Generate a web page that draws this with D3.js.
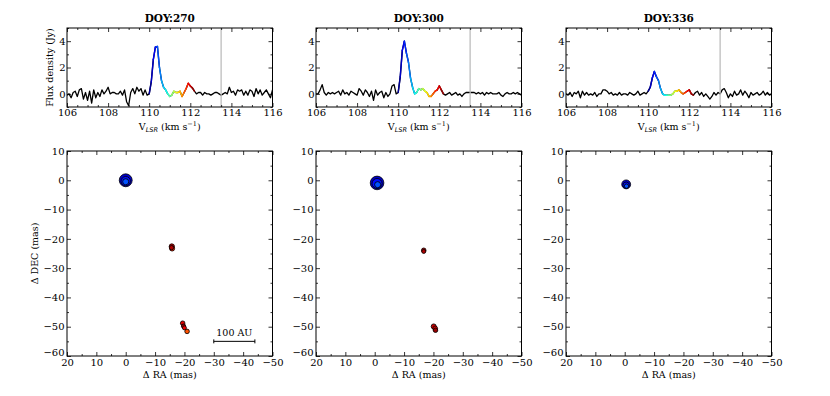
<!DOCTYPE html>
<html><head><meta charset="utf-8">
<script src="https://cdn.jsdelivr.net/npm/d3@7"></script>
<style>
html,body{margin:0;padding:0;background:#fff;}
text{font-family:"DejaVu Serif",serif;fill:#000;}
</style></head>
<body>
<svg id="chart" width="830" height="396"></svg>
<script>
// ---------------- DATA ----------------
const epochs = ["DOY:270", "DOY:300", "DOY:336"];
const velStart = 106.0, velStep = 0.1; // channel grid
const flux270 = [-0.1,0.0,-0.3,0.1,0.2,-0.2,0.3,0.4,-0.4,0.1,-0.5,0.2,-0.7,0.3,-0.3,0.1,-0.2,0.3,0.0,0.2,
 0.5,0.0,0.1,0.1,0.0,0.0,0.2,-0.1,0.3,-0.6,-0.9,0.1,0.4,0.0,0.5,0.2,0.4,-0.1,0.3,-0.1,
 0.0,0.9,2.6,3.55,3.6,2.0,1.0,0.5,0.3,0.0,-0.2,-0.1,0.2,0.1,0.1,0.2,-0.2,0.1,0.4,0.8,
 0.6,0.45,0.2,0.0,0.1,0.1,-0.1,0.1,0.0,0.0,-0.1,0.0,0.1,0.1,0.0,-0.1,0.0,0.1,0.0,0.5,
 0.1,0.2,-0.1,0.3,0.2,0.3,-0.1,0.2,-0.1,0.3,0.2,-0.2,0.4,0.0,0.3,-0.1,0.1,0.3,0.0,-0.3,0.3];
const flux300 = [0.0,0.0,0.3,0.7,0.1,-0.1,0.1,0.0,0.1,0.0,0.1,0.2,-0.1,0.3,0.0,0.1,-0.1,0.2,0.1,0.0,
 -0.1,0.4,0.2,-0.1,0.3,0.1,-0.2,0.2,-0.5,0.3,-0.1,0.1,0.2,-0.3,0.1,-0.2,0.0,0.6,0.7,0.0,
 0.1,1.3,3.3,4.0,3.1,2.4,1.2,0.5,0.0,0.1,0.4,0.3,0.4,0.2,0.1,-0.2,-0.2,0.0,0.2,0.3,
 0.6,0.3,0.0,-0.1,0.0,0.1,-0.1,0.0,0.1,-0.1,0.0,-0.2,0.0,0.1,0.1,0.1,0.1,0.1,0.0,0.1,
 0.0,0.1,-0.1,0.1,0.0,0.1,0.0,0.0,0.0,0.1,-0.1,-0.2,0.0,0.1,0.0,0.0,0.1,0.0,0.1,0.0,-0.1];
const flux336 = [0.0,-0.1,0.1,-0.2,0.1,0.0,0.2,-0.3,0.2,-0.1,0.1,-0.1,0.0,-0.1,0.1,-0.2,0.0,0.0,0.3,0.3,
 0.2,0.0,0.1,-0.1,0.0,-0.1,0.1,-0.1,0.0,0.0,-0.1,0.1,0.0,-0.1,0.0,0.2,-0.1,0.0,0.1,0.0,
 0.2,0.5,1.2,1.7,1.3,1.0,0.4,0.0,-0.1,-0.1,-0.1,-0.1,0.0,0.2,0.2,0.3,0.1,0.0,0.1,0.2,
 0.3,0.0,-0.1,0.1,0.2,-0.1,0.1,-0.2,0.0,-0.2,-0.4,-0.2,0.1,-0.1,0.1,0.0,0.3,0.4,0.1,-0.3,
 0.0,-0.2,0.2,-0.1,0.0,0.3,-0.1,0.2,0.0,-0.3,0.1,-0.1,0.0,0.1,-0.1,0.0,0.2,-0.1,0.1,-0.1,0.0];
const colorVelRange = [110.0, 112.2];
const markerVel = 113.5;
// maser spots: [dRA (mas), dDEC (mas), velocity (km/s), flux (Jy)]
const spots270 = [[0,0,110.15,3.6],[0,-0.3,110.3,1.9],[0,-0.5,110.45,0.8],
 [-15.7,-22.6,112.05,0.6],[-15.8,-23.3,111.85,0.55],[-15.6,-23.0,112.1,0.4],
 [-19.4,-48.8,112.0,0.45],[-19.7,-49.8,112.15,0.4],[-20.0,-50.4,111.95,0.35],[-20.9,-51.6,111.75,0.45]];
const spots300 = [[-0.8,-0.9,110.15,4.0],[-0.8,-1.1,110.3,2.2],[-1.0,-1.5,110.45,0.8],
 [-16.7,-23.9,112.05,0.45],[-16.7,-24.3,112.1,0.35],
 [-20.1,-49.9,112.05,0.55],[-20.6,-50.6,111.95,0.5],[-20.7,-51.2,112.15,0.45]];
const spots336 = [[-0.5,-1.4,110.15,1.7],[-0.5,-1.7,110.3,0.9],[-0.6,-2.0,110.45,0.4]];
const specXTicks = [106,108,110,112,114,116];
const specYTicks = [0,2,4];
const mapTicks = [20,10,0,-10,-20,-30,-40,-50];
const mapYTicks = [10,0,-10,-20,-30,-40,-50,-60];
const scaleBar = {ra0:-30, ra1:-44, dec:-55, label:"100 AU"};

// ---------------- LAYOUT ----------------
const svg = d3.select("#chart");
const panelX = [67, 316, 566], panelW = 205.5;
const topY = 28, topH = 79;
const botY = 151, botH = 205;
const fluxes = [flux270, flux300, flux336];
const spots = [spots270, spots300, spots336];

const jetColors = ["#00007f","#0000ff","#007fff","#00ffff","#7fff7f","#ffff00","#ff7f00","#ff0000","#7f0000"];
const jet = d3.scaleLinear()
  .domain(d3.range(jetColors.length).map(i => colorVelRange[0] + i*(colorVelRange[1]-colorVelRange[0])/(jetColors.length-1)))
  .range(jetColors).clamp(true);
const rScale = d3.scaleSqrt().domain([0,4]).range([0,6.8]);

function frameAxes(g, x, y, w, h, xMajor, xMinor, yMajor, yMinor, xFmt, yFmt, pad) {
  const tick = (axisFn, scale, vals, size, fmt, tx, ty) => {
    const a = axisFn(scale).tickValues(vals).tickSizeInner(size).tickSizeOuter(0).tickPadding(pad);
    a.tickFormat(fmt || (() => ""));
    const ag = g.append("g").attr("transform", `translate(${tx},${ty})`).call(a);
    ag.select(".domain").remove();
    ag.selectAll("line").attr("stroke","#000").attr("stroke-width",0.8);
    ag.selectAll("text").style("font-family","DejaVu Serif").style("font-size","10px");
    return ag;
  };
  tick(d3.axisBottom, x, xMajor, -4, xFmt, 0, h);
  tick(d3.axisBottom, x, xMinor, -2, null, 0, h);
  tick(d3.axisTop, x, xMajor, -4, null, 0, 0);
  tick(d3.axisTop, x, xMinor, -2, null, 0, 0);
  const yl = tick(d3.axisLeft, y, yMajor, -4, yFmt, 0, 0);
  tick(d3.axisLeft, y, yMinor, -2, null, 0, 0);
  tick(d3.axisRight, y, yMajor, -4, null, w, 0);
  tick(d3.axisRight, y, yMinor, -2, null, w, 0);
  g.append("rect").attr("width", w).attr("height", h)
    .attr("fill","none").attr("stroke","#000").attr("stroke-width",1);
  return yl;
}

const fmt = d3.format("d");

epochs.forEach((ep, k) => {
  // -------- spectrum panel --------
  const g = svg.append("g").attr("transform", `translate(${panelX[k]},${topY})`);
  const x = d3.scaleLinear().domain([106,116]).range([0,panelW]);
  const y = d3.scaleLinear().domain([-1,5]).range([topH,0]);
  const data = fluxes[k].map((f,i) => ({v: velStart + i*velStep, f}));
  const clipId = "clip" + k;
  g.append("clipPath").attr("id", clipId).append("rect").attr("width", panelW).attr("height", topH);
  const line = d3.line().x(d => x(d.v)).y(d => y(d.f));
  const pg = g.append("g").attr("clip-path", `url(#${clipId})`);
  pg.append("path").datum(data).attr("d", line).attr("fill","none")
    .attr("stroke","#000").attr("stroke-width",1.3).attr("stroke-linejoin","round");
  for (let i = 0; i < data.length-1; i++) {
    const a = data[i], b = data[i+1];
    if (a.v >= colorVelRange[0]-1e-6 && b.v <= colorVelRange[1]+1e-6) {
      pg.append("path").datum([a,b]).attr("d", line).attr("fill","none")
        .attr("stroke", jet((a.v+b.v)/2)).attr("stroke-width",1.5).attr("stroke-linecap","round");
    }
  }
  pg.append("line").attr("x1", x(markerVel)).attr("x2", x(markerVel))
    .attr("y1", 0).attr("y2", topH).attr("stroke","#bdbdbd").attr("stroke-width",1.3);
  frameAxes(g, x, y, panelW, topH, specXTicks, d3.range(106,116.01,0.5).filter(v => v%2!==0),
    specYTicks, [-1,1,3,5], fmt, fmt, 1.5);
  g.append("text").attr("x", panelW/2).attr("y", -6).attr("text-anchor","middle")
    .style("font-size","10.5px").style("font-weight","600").text(ep);
  const xl = g.append("text").attr("x", panelW/2).attr("y", topH + 23).attr("text-anchor","middle").style("font-size","9.5px");
  xl.append("tspan").text("V");
  xl.append("tspan").attr("dy", 2).style("font-size","6.5px").style("font-family","DejaVu Sans")
    .style("font-style","italic").text("LSR");
  xl.append("tspan").attr("dy", -2).text(" (km s");
  xl.append("tspan").attr("dy", -4).style("font-size","6.5px").text("−1");
  xl.append("tspan").attr("dy", 4).text(")");
  if (k === 0) {
    g.append("text").attr("transform", `translate(${-14},${topH/2}) rotate(-90)`)
      .attr("text-anchor","middle").style("font-size","9.5px").text("Flux density (Jy)");
  }

  // -------- map panel --------
  const m = svg.append("g").attr("transform", `translate(${panelX[k]},${botY})`);
  const mx = d3.scaleLinear().domain([20,-50]).range([0,panelW]);
  const my = d3.scaleLinear().domain([-60,10]).range([botH,0]);
  const sp = spots[k].map(s => ({ra:s[0], dec:s[1], v:s[2], f:s[3]})).sort((a,b) => b.f - a.f);
  m.selectAll("circle.spot").data(sp).enter().append("circle").attr("class","spot")
    .attr("cx", d => mx(d.ra)).attr("cy", d => my(d.dec)).attr("r", d => rScale(d.f))
    .attr("fill", d => jet(d.v)).attr("stroke","#000").attr("stroke-width",0.8);
  const yl = frameAxes(m, mx, my, panelW, botH, mapTicks, [15,5,-5,-15,-25,-35,-45],
    mapYTicks, [5,-5,-15,-25,-35,-45,-55], fmt, fmt, 2.5);
  // lift the lowest y label slightly so it sits above the corner x label
  yl.selectAll(".tick").filter(d => d === -60).select("text").attr("dy", "-0.1em");
  m.append("text").attr("x", panelW/2).attr("y", botH + 22).attr("text-anchor","middle")
    .style("font-size","9.5px").text("Δ RA (mas)");
  if (k === 0) {
    m.append("text").attr("transform", `translate(${-29},${botH/2}) rotate(-90)`)
      .attr("text-anchor","middle").style("font-size","9.5px").text("Δ DEC (mas)");
    const sb = m.append("g");
    sb.append("line").attr("x1", mx(scaleBar.ra0)).attr("x2", mx(scaleBar.ra1))
      .attr("y1", my(scaleBar.dec)).attr("y2", my(scaleBar.dec)).attr("stroke","#000").attr("stroke-width",1);
    [scaleBar.ra0, scaleBar.ra1].forEach(r => sb.append("line").attr("x1", mx(r)).attr("x2", mx(r))
      .attr("y1", my(scaleBar.dec)-2).attr("y2", my(scaleBar.dec)+2).attr("stroke","#000").attr("stroke-width",1));
    sb.append("text").attr("x", mx((scaleBar.ra0+scaleBar.ra1)/2)).attr("y", my(scaleBar.dec)-5)
      .attr("text-anchor","middle").style("font-size","9.5px").text(scaleBar.label);
  }
});
</script>
</body></html>
